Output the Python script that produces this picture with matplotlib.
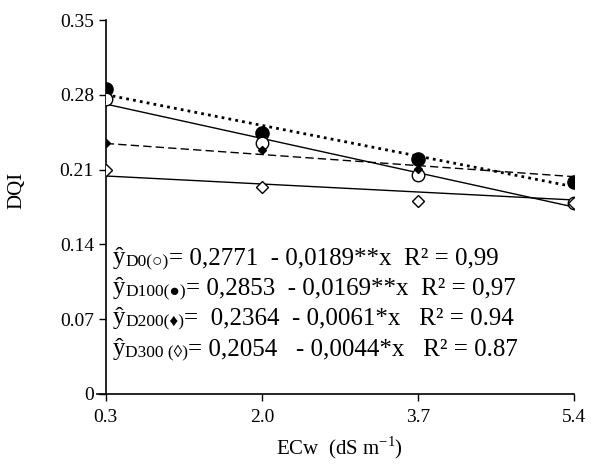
import numpy as np
import matplotlib.pyplot as plt

plt.rcParams['font.family'] = ['Liberation Serif', 'DejaVu Sans']
plt.rcParams['mathtext.fontset'] = 'custom'
plt.rcParams['mathtext.rm'] = 'Liberation Serif'

ecw = [0.3, 2.0, 3.7, 5.4]
xticks = ["0.3", "2.0", "3.7", "5.4"]

# medias observadas
d0 = [0.276, 0.235, 0.205, 0.179]
d100 = [0.286, 0.244, 0.220, 0.198]
d200 = [0.235, 0.228, 0.211, 0.200]
d300 = [0.210, 0.194, 0.181, 0.179]

# coeficientes de las regresiones
coef = {
    "d0": (0.2771, -0.0189),
    "d100": (0.2853, -0.0169),
    "d200": (0.2364, -0.0061),
    "d300": (0.2054, -0.0044),
}

fig = plt.figure(figsize=(5.91, 4.69), dpi=100)
ax = fig.add_axes([0.179, 0.160, 0.792, 0.797])

x = np.array(ecw)
a, b = coef["d0"]
ax.plot(x, a + b * x, color="black", lw=1.0, ls="-")
a, b = coef["d100"]
ax.plot(x, a + b * x, color="black", lw=2.0, ls=(0, (1, 1.5)))
a, b = coef["d200"]
ax.plot(x, a + b * x, color="black", lw=1.0, ls=(0, (6, 3)))
a, b = coef["d300"]
ax.plot(x, a + b * x, color="black", lw=1.0, ls="-")

ax.plot(ecw, d100, "o", color="black", ms=9.5, zorder=3)
ax.plot(ecw, d0, "o", mfc="white", mec="black", ms=9, mew=1.0, zorder=4)
ax.plot(ecw, d200, "D", color="black", ms=4.5, zorder=5)
ax.plot(ecw, d300, "D", mfc="white", mec="black", ms=6, mew=1.0, zorder=4)

ax.set_xlim(0.3, 5.4)
ax.set_ylim(0, 0.35)
ax.set_xticks(ecw)
ax.set_xticklabels(xticks)
ax.set_yticks([0, 0.07, 0.14, 0.21, 0.28, 0.35])
ax.set_yticklabels(["0", "0.07", "0.14", "0.21", "0.28", "0.35"])
ax.tick_params(labelsize=14, direction="out", length=5, width=1)
ax.tick_params(axis="x", pad=6)
for s in ["top", "right"]:
    ax.spines[s].set_visible(False)
ax.spines["left"].set_linewidth(1.2)
ax.spines["bottom"].set_linewidth(1.2)
ax.spines["bottom"].set_bounds(0.3, 5.4)
ax.plot([0.3 - 0.1, 0.3], [0, 0], color="black", lw=1.2, clip_on=False)

ax.set_ylabel("DQI", fontsize=15)
ax.yaxis.set_label_coords(-0.17, 0.545)
ax.set_xlabel("ECw  (dS m$^{-1}$)", fontsize=15, labelpad=6)

ecuaciones = [
    ("D0(\u25CB)", "= 0,2771  - 0,0189**x  R² = 0,99"),
    ("D100(\u25CF)", "= 0,2853  - 0,0169**x  R² = 0,97"),
    ("D200(\u2666)", "=  0,2364  - 0,0061*x   R² = 0.94"),
    ("D300 (\u25CA)", "= 0,2054   - 0,0044*x   R² = 0.87"),
]
ys = [258, 288, 318, 349]
fig.canvas.draw()
r = fig.canvas.get_renderer()
for (sub, eq), yp in zip(ecuaciones, ys):
    yf = 1 - yp / 469
    t = fig.text(113 / 591, yf, "ŷ", fontsize=18, va="center", ha="left")
    bb = t.get_window_extent(r)
    s = fig.text(bb.x1 / 591, yf - 4 / 469, sub, fontsize=12.5, va="center", ha="left")
    bb = s.get_window_extent(r)
    fig.text(bb.x1 / 591, yf, eq, fontsize=18, va="center", ha="left")

fig.savefig("out.png", dpi=100)
